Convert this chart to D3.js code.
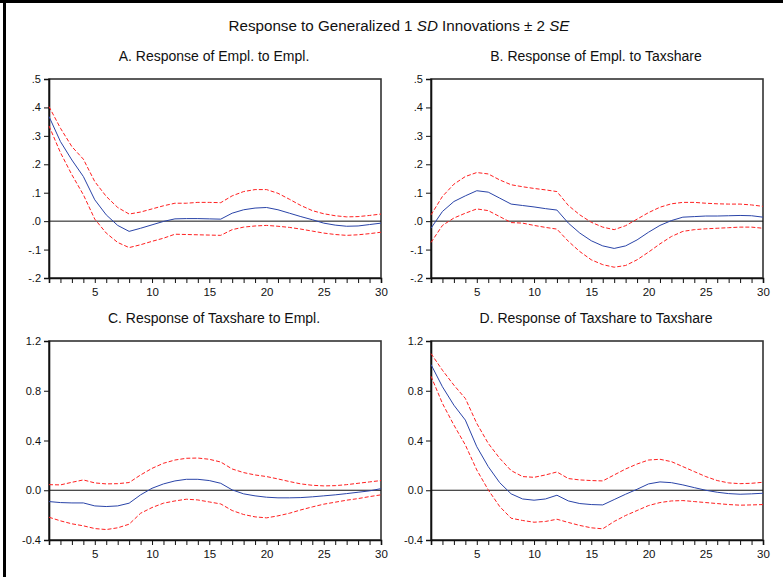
<!DOCTYPE html>
<html><head><meta charset="utf-8">
<script src="https://cdn.jsdelivr.net/npm/d3@7"></script>
<style>
html,body{margin:0;padding:0;background:#fff;}
svg{display:block;font-family:"Liberation Sans",Arial,sans-serif;}
</style></head>
<body><svg id="c" width="783" height="577"></svg>
<script>
// ---- data ----
const periods = d3.range(1, 31);
const xTickValues = [5, 10, 15, 20, 25, 30];

const titleMain = ["Response to Generalized 1 ", "SD", " Innovations \u00b1 2 ", "SE"];
const panelTitles = ["A. Response of Empl. to Empl.", "B. Response of Empl. to Taxshare",
                     "C. Response of Taxshare to Empl.", "D. Response of Taxshare to Taxshare"];

const yTicksTop = [-0.2, -0.1, 0.0, 0.1, 0.2, 0.3, 0.4, 0.5];
const yTickLabelsTop = ["-.2", "-.1", ".0", ".1", ".2", ".3", ".4", ".5"];
const yTicksBottom = [-0.4, 0.0, 0.4, 0.8, 1.2];
const yTickLabelsBottom = ["-0.4", "0.0", "0.4", "0.8", "1.2"];

const aMid = [0.368,0.28,0.215,0.157,0.075,0.022,-0.015,-0.036,-0.025,-0.013,-0.001,0.008,0.009,0.009,0.008,0.007,0.028,0.04,0.046,0.048,0.04,0.028,0.016,0.005,-0.007,-0.014,-0.018,-0.017,-0.012,-0.007];
const aUp  = [0.403,0.327,0.262,0.218,0.139,0.087,0.048,0.025,0.032,0.043,0.054,0.063,0.063,0.066,0.066,0.065,0.089,0.104,0.111,0.111,0.098,0.077,0.055,0.037,0.026,0.019,0.015,0.016,0.02,0.025];
const aLo  = [0.335,0.241,0.163,0.093,0.007,-0.042,-0.075,-0.093,-0.083,-0.071,-0.06,-0.046,-0.047,-0.048,-0.049,-0.05,-0.03,-0.021,-0.017,-0.015,-0.018,-0.022,-0.028,-0.035,-0.042,-0.047,-0.05,-0.048,-0.044,-0.039];

const bMid = [-0.025,0.034,0.069,0.089,0.107,0.102,0.081,0.06,0.055,0.05,0.044,0.039,-0.007,-0.042,-0.069,-0.087,-0.096,-0.087,-0.066,-0.039,-0.015,0.002,0.014,0.016,0.018,0.018,0.019,0.02,0.019,0.014];
const bUp  = [0.022,0.087,0.13,0.157,0.171,0.166,0.145,0.128,0.121,0.115,0.11,0.104,0.055,0.022,-0.004,-0.021,-0.03,-0.016,0.007,0.03,0.049,0.061,0.066,0.066,0.063,0.061,0.06,0.06,0.057,0.052];
const bLo  = [-0.075,-0.015,0.011,0.028,0.043,0.037,0.016,-0.005,-0.007,-0.015,-0.022,-0.028,-0.071,-0.107,-0.136,-0.153,-0.162,-0.156,-0.136,-0.109,-0.08,-0.054,-0.036,-0.03,-0.027,-0.025,-0.023,-0.021,-0.021,-0.025];

const cMid = [-0.091,-0.099,-0.102,-0.102,-0.126,-0.131,-0.126,-0.104,-0.037,0.016,0.051,0.075,0.088,0.088,0.078,0.056,0.003,-0.029,-0.045,-0.056,-0.061,-0.061,-0.059,-0.053,-0.045,-0.037,-0.027,-0.016,-0.005,0.013];
const cUp  = [0.045,0.043,0.064,0.083,0.059,0.051,0.053,0.062,0.123,0.176,0.217,0.243,0.257,0.259,0.249,0.227,0.171,0.142,0.123,0.11,0.091,0.07,0.051,0.04,0.035,0.037,0.045,0.056,0.067,0.078];
const cLo  = [-0.217,-0.246,-0.27,-0.286,-0.308,-0.316,-0.302,-0.273,-0.185,-0.139,-0.104,-0.086,-0.072,-0.078,-0.094,-0.11,-0.163,-0.195,-0.214,-0.222,-0.206,-0.185,-0.158,-0.134,-0.112,-0.096,-0.08,-0.067,-0.051,-0.037];

const dMid = [1.011,0.832,0.684,0.564,0.35,0.19,0.061,-0.029,-0.07,-0.08,-0.07,-0.04,-0.086,-0.107,-0.115,-0.118,-0.075,-0.032,0.008,0.051,0.067,0.061,0.043,0.021,0.0,-0.016,-0.027,-0.032,-0.029,-0.024];
const dUp  = [1.099,0.965,0.845,0.738,0.537,0.377,0.257,0.158,0.11,0.104,0.123,0.147,0.094,0.083,0.078,0.075,0.123,0.171,0.211,0.243,0.249,0.23,0.19,0.15,0.11,0.078,0.059,0.053,0.056,0.064];
const dLo  = [0.917,0.698,0.524,0.364,0.163,0.003,-0.131,-0.225,-0.243,-0.257,-0.251,-0.233,-0.259,-0.283,-0.302,-0.31,-0.251,-0.203,-0.163,-0.123,-0.099,-0.086,-0.083,-0.091,-0.099,-0.107,-0.115,-0.12,-0.118,-0.115];

// ---- drawing ----
const svg = d3.select("#c");
const FONT = '"Liberation Sans",Arial,sans-serif';

// outer frame (left & top)
svg.append("line").attr("x1",4.5).attr("x2",4.5).attr("y1",0).attr("y2",577).attr("stroke","#000").attr("stroke-width",3);
svg.append("line").attr("x1",0).attr("x2",783).attr("y1",1.5).attr("y2",1.5).attr("stroke","#000").attr("stroke-width",3);

// main title
const tt = svg.append("text").attr("x",399).attr("y",31).attr("text-anchor","middle")
  .attr("font-size",15.2).attr("fill","#111");
titleMain.forEach((s,i)=>{
  tt.append("tspan").text(s).attr("font-style", i%2===1 ? "italic" : "normal");
});

const cols = [{x0:49, x1:381},{x0:431, x1:763}];
const rows = [{y0:79, y1:278},{y0:341, y1:540}];

const panels = [
  {t:panelTitles[0], c:0, r:0, mid:aMid, up:aUp, lo:aLo, dom:[-0.2,0.5], ticks:yTicksTop, labs:yTickLabelsTop},
  {t:panelTitles[1], c:1, r:0, mid:bMid, up:bUp, lo:bLo, dom:[-0.2,0.5], ticks:yTicksTop, labs:yTickLabelsTop},
  {t:panelTitles[2], c:0, r:1, mid:cMid, up:cUp, lo:cLo, dom:[-0.4,1.2], ticks:yTicksBottom, labs:yTickLabelsBottom},
  {t:panelTitles[3], c:1, r:1, mid:dMid, up:dUp, lo:dLo, dom:[-0.4,1.2], ticks:yTicksBottom, labs:yTickLabelsBottom},
];

panels.forEach(p=>{
  const C = cols[p.c], R = rows[p.r];
  const x = d3.scaleLinear().domain([1,30]).range([C.x0, C.x1]);
  const y = d3.scaleLinear().domain(p.dom).range([R.y1, R.y0]);
  const g = svg.append("g");

  g.append("text").attr("x",(C.x0+C.x1)/2 - 1).attr("y",R.y0-18).attr("text-anchor","middle")
    .attr("font-size",14).attr("fill","#111").text(p.t);

  // frame
  g.append("rect").attr("x",C.x0).attr("y",R.y0).attr("width",C.x1-C.x0).attr("height",R.y1-R.y0)
    .attr("fill","none").attr("stroke","#333").attr("stroke-width",1.6);

  // y axis
  const ya = d3.axisLeft(y).tickValues(p.ticks).tickSize(5).tickPadding(3)
    .tickFormat((d,i)=>p.labs[i]);
  const yg = g.append("g").attr("transform",`translate(${C.x0},0)`).call(ya);
  yg.select(".domain").attr("stroke","#111").attr("stroke-width",1.6);
  yg.selectAll(".tick line").attr("stroke","#111");
  yg.selectAll("text").attr("font-size",11).attr("font-family",FONT).attr("fill","#111");

  // x axis: minor ticks every period, labels at 5s
  const xa = d3.axisBottom(x).tickValues(periods).tickSize(5).tickPadding(5)
    .tickFormat(d=> xTickValues.includes(d) ? String(d) : "");
  const xg = g.append("g").attr("transform",`translate(0,${R.y1})`).call(xa);
  xg.select(".domain").attr("stroke","#111").attr("stroke-width",1.6);
  xg.selectAll(".tick line").attr("stroke","#111");
  xg.selectAll("text").attr("font-size",11.5).attr("font-family",FONT).attr("fill","#111");

  // zero line
  g.append("line").attr("x1",C.x0).attr("x2",C.x1).attr("y1",y(0)).attr("y2",y(0))
    .attr("stroke","#111").attr("stroke-width",1);

  const line = d3.line().x((d,i)=>x(periods[i])).y(d=>y(d));
  g.append("path").datum(p.up).attr("d",line).attr("fill","none").attr("stroke","#ff2020")
    .attr("stroke-width",1).attr("stroke-dasharray","4,2");
  g.append("path").datum(p.lo).attr("d",line).attr("fill","none").attr("stroke","#ff2020")
    .attr("stroke-width",1).attr("stroke-dasharray","4,2");
  g.append("path").datum(p.mid).attr("d",line).attr("fill","none").attr("stroke","#2a44a8")
    .attr("stroke-width",1);
});
</script></body></html>
